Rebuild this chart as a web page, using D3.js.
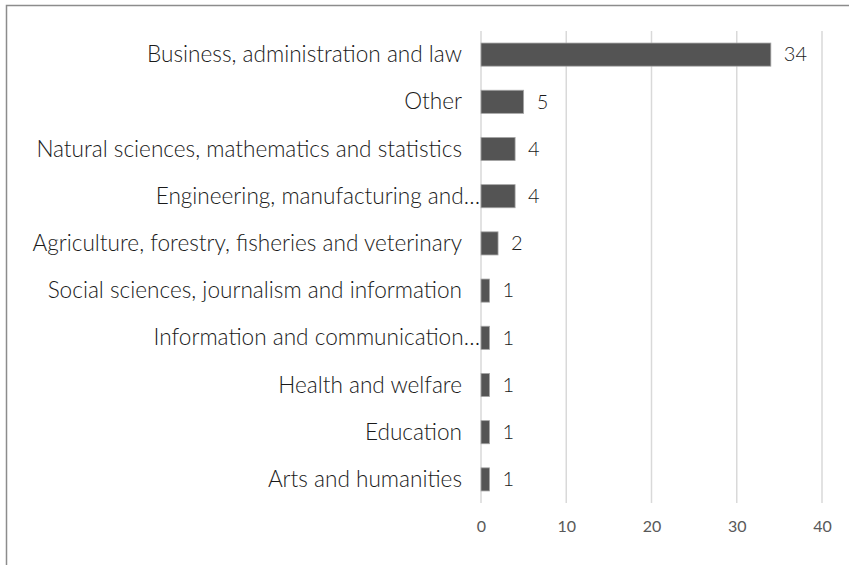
<!DOCTYPE html>
<html>
<head>
<meta charset="utf-8">
<script src="https://cdn.jsdelivr.net/npm/d3@7"></script>
<style>
  body { margin: 0; background: #fff; }
  text { font-family: Lato, "Open Sans", sans-serif; }
</style>
</head>
<body>
<div id="chart"></div>
<script>
// Categories, top to bottom, as they appear in the chart
var categories = [
  "Business, administration and law",
  "Other",
  "Natural sciences, mathematics and statistics",
  "Engineering, manufacturing and\u2026",
  "Agriculture, forestry, fisheries and veterinary",
  "Social sciences, journalism and information",
  "Information and communication\u2026",
  "Health and welfare",
  "Education",
  "Arts and humanities"
];
var counts = [34, 5, 4, 4, 2, 1, 1, 1, 1, 1];
var ticks = [0, 10, 20, 30, 40];

var width = 849, height = 565;
var margin = {top: 31, right: 27, bottom: 62, left: 481};

var svg = d3.select("#chart").append("svg")
  .attr("width", width)
  .attr("height", height);

// Outer chart border (only top and left edges are inside the picture)
svg.append("rect")
  .attr("x", 6.5).attr("y", 5.5)
  .attr("width", width + 20).attr("height", height + 20)
  .attr("fill", "none")
  .attr("stroke", "#8c8c8c")
  .attr("stroke-width", 1.5);

var x = d3.scaleLinear().domain([0, 40]).range([margin.left, width - margin.right]);
var y = d3.scaleBand().domain(categories)
  .range([margin.top, height - margin.bottom])
  .paddingInner(0.51).paddingOuter(0.255);

// Vertical gridlines
svg.append("g").selectAll("line")
  .data(ticks)
  .enter().append("line")
  .attr("x1", function(d) { return x(d); })
  .attr("x2", function(d) { return x(d); })
  .attr("y1", margin.top)
  .attr("y2", height - margin.bottom)
  .attr("stroke", "#d9d9d9")
  .attr("stroke-width", 1.5);

// Bars
svg.append("g").selectAll("rect")
  .data(counts)
  .enter().append("rect")
  .attr("x", x(0))
  .attr("y", function(d, i) { return y(categories[i]); })
  .attr("width", function(d) { return x(d) - x(0); })
  .attr("height", y.bandwidth())
  .attr("fill", "#545454")
  .attr("stroke", "#a6a6a6")
  .attr("stroke-width", 0.8);

// Value labels
svg.append("g").selectAll("text")
  .data(counts)
  .enter().append("text")
  .attr("x", function(d) { return x(d) + 13; })
  .attr("y", function(d, i) { return y(categories[i]) + y.bandwidth() / 2; })
  .attr("dy", "0.34em")
  .attr("font-size", 20)
  .attr("font-weight", 300)
  .attr("fill", "#1a1a1a")
  .text(function(d) { return d; });

// Category labels (truncated ones run right up to the axis, like Excel does)
svg.append("g").selectAll("text")
  .data(categories)
  .enter().append("text")
  .attr("x", function(d) { return d.slice(-1) == "\u2026" ? x(0) - 1 : x(0) - 19; })
  .attr("y", function(d) { return y(d) + y.bandwidth() / 2; })
  .attr("dy", "0.34em")
  .attr("text-anchor", "end")
  .attr("font-size", 22.6)
  .attr("font-weight", 300)
  .attr("fill", "#1a1a1a")
  .text(function(d) { return d; });

// X axis tick labels
var axis = d3.axisBottom(x).tickValues(ticks).tickSize(0).tickPadding(18);
var gx = svg.append("g")
  .attr("transform", "translate(0," + (height - margin.bottom) + ")")
  .call(axis);
gx.select(".domain").remove();
gx.selectAll("text")
  .attr("font-size", 16)
  .attr("fill", "#595959")
  .style("font-family", "Lato, 'Open Sans', sans-serif");
</script>
</body>
</html>
